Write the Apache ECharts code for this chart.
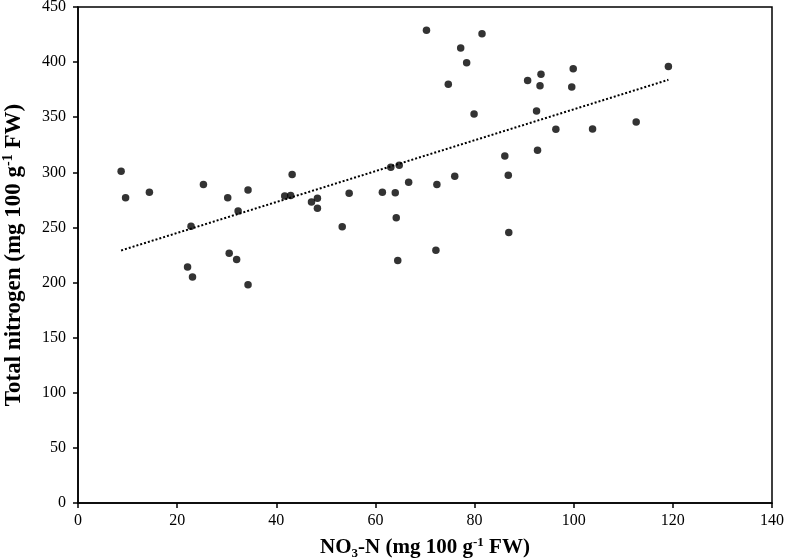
<!DOCTYPE html>
<html>
<head>
<meta charset="utf-8">
<script src="https://cdn.jsdelivr.net/npm/echarts@6/dist/echarts.min.js"></script>
<style>
html,body{margin:0;padding:0;background:#fff;}
#chart{width:787px;height:560px;}
</style>
</head>
<body>
<div id="chart"></div>
<script>
// NO3-N values (mg 100 g-1 FW)
const no3N = [8.7, 9.6, 14.4, 22.1, 23.1, 22.8, 25.3, 30.2, 30.5, 32.0, 32.3, 34.3, 34.3, 41.7, 42.9, 43.2, 47.1, 48.3, 48.3, 53.3, 54.7, 61.4, 63.1, 64.0, 64.2, 64.5, 64.8, 66.7, 70.3, 72.2, 72.4, 74.7, 76.0, 77.2, 78.4, 79.9, 81.5, 86.1, 86.8, 86.9, 90.7, 92.5, 92.7, 93.2, 93.4, 96.4, 99.6, 99.9, 103.8, 112.6, 119.1];
// Total nitrogen values (mg 100 g-1 FW)
const totalN = [301, 277, 282, 214, 205, 251, 289, 277, 226.6, 221, 265, 284, 198, 278.5, 279, 298, 273, 276.4, 267.5, 250.6, 281, 282, 304.5, 281.5, 258.8, 220, 306.4, 291, 428.8, 229.4, 289, 380, 296.4, 412.7, 399.4, 353, 425.8, 314.8, 297.3, 245.3, 383.3, 355.7, 320, 378.5, 389, 339, 377.5, 394, 339.4, 345.7, 396];

const points = no3N.map((x, i) => [x, totalN[i]]);

// linear least-squares trend line over the data range
const n = no3N.length;
const mx = no3N.reduce((a, b) => a + b, 0) / n;
const my = totalN.reduce((a, b) => a + b, 0) / n;
let sxy = 0, sxx = 0;
for (let i = 0; i < n; i++) { sxy += (no3N[i] - mx) * (totalN[i] - my); sxx += (no3N[i] - mx) ** 2; }
const slope = sxy / sxx;
const icpt = my - slope * mx;
const xMin = Math.min(...no3N), xMax = Math.max(...no3N);
const trend = [[xMin, icpt + slope * xMin], [xMax, icpt + slope * xMax]];

const font = 'Liberation Serif';
const chart = echarts.init(document.getElementById('chart'));
chart.setOption({
  animation: false,
  backgroundColor: '#fff',
  grid: { left: 78, right: 15, top: 7, bottom: 57, outerBoundsMode: 'none', containLabel: false, show: true, borderColor: '#000', borderWidth: 1.5, backgroundColor: 'transparent' },
  xAxis: {
    type: 'value', min: 0, max: 140, interval: 20,
    splitLine: { show: false },
    axisLine: { show: true, lineStyle: { color: '#000', width: 1.5 } },
    axisTick: { show: true, inside: false, length: 5, lineStyle: { color: '#000', width: 1.5 } },
    axisLabel: { color: '#000', fontFamily: font, fontSize: 16, margin: 10 },
    name: '{b|NO}{sub|3}{b|-N (mg 100 g}{sup|-1}{b| FW)}',
    nameLocation: 'middle', nameGap: 33, nameMoveOverlap: false,
    nameTextStyle: {
      color: '#000', fontFamily: font,
      rich: {
        b: { fontFamily: font, fontWeight: 'bold', fontSize: 21, color: '#000', lineHeight: 24, verticalAlign: 'middle' },
        sub: { fontFamily: font, fontWeight: 'bold', fontSize: 13, color: '#000', lineHeight: 24, verticalAlign: 'bottom' },
        sup: { fontFamily: font, fontWeight: 'bold', fontSize: 13, color: '#000', lineHeight: 24, verticalAlign: 'top' }
      }
    }
  },
  yAxis: {
    type: 'value', min: 0, max: 450, interval: 50,
    splitLine: { show: false },
    axisLine: { show: true, lineStyle: { color: '#000', width: 1.5 } },
    axisTick: { show: true, inside: false, length: 5, lineStyle: { color: '#000', width: 1.5 } },
    axisLabel: { color: '#000', fontFamily: font, fontSize: 16, margin: 12 },
    name: '{b|Total nitrogen (mg 100 g}{sup|-1}{b| FW)}',
    nameLocation: 'middle', nameGap: 51, nameRotate: 90, nameMoveOverlap: false,
    nameTextStyle: {
      color: '#000', fontFamily: font,
      rich: {
        b: { fontFamily: font, fontWeight: 'bold', fontSize: 23, color: '#000', lineHeight: 26, verticalAlign: 'middle' },
        sup: { fontFamily: font, fontWeight: 'bold', fontSize: 14, color: '#000', lineHeight: 26, verticalAlign: 'top' }
      }
    }
  },
  series: [
    {
      type: 'line', data: trend, showSymbol: false, symbol: 'none',
      lineStyle: { color: '#000', width: 2, type: [2, 2] }, z: 1, silent: true
    },
    {
      type: 'scatter', data: points, symbol: 'circle', symbolSize: 7.5,
      itemStyle: { color: '#000' }, z: 2
    }
  ]
});
</script>
</body>
</html>
